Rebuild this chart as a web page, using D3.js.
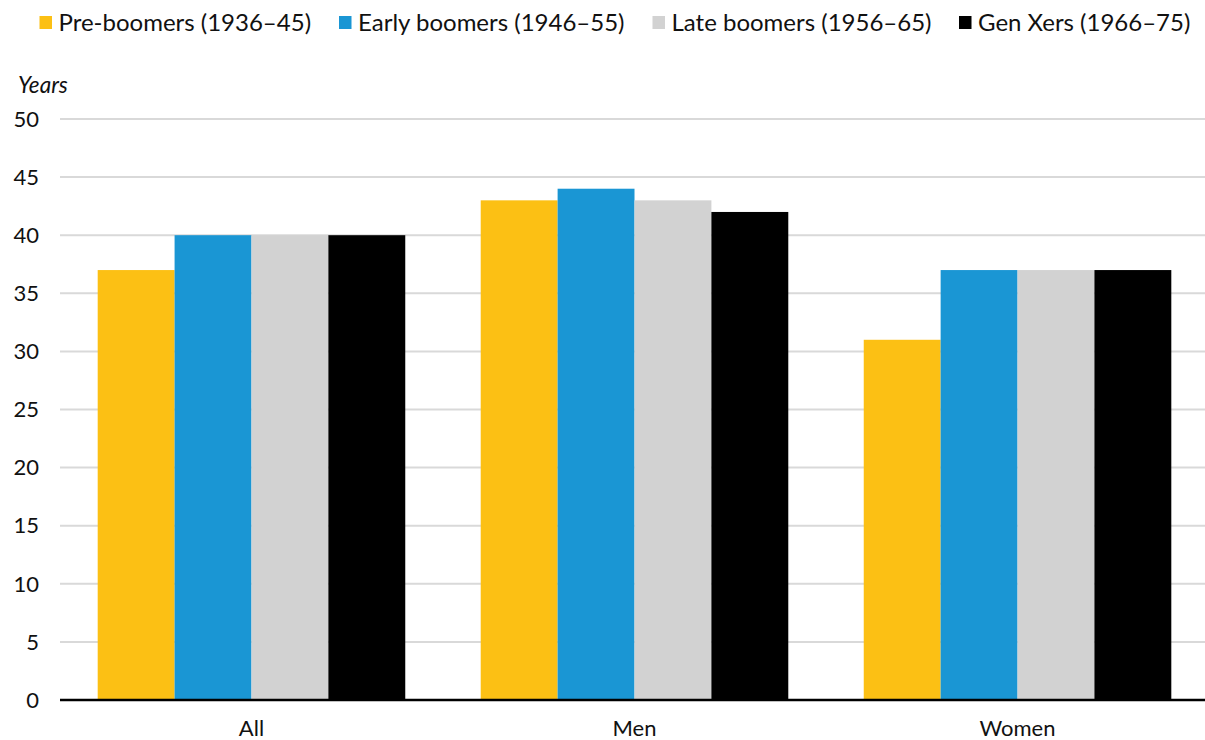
<!DOCTYPE html>
<html><head><meta charset="utf-8">
<script src="https://cdn.jsdelivr.net/npm/d3@7"></script>
<style>
html,body{margin:0;padding:0;background:#fff;}
svg{display:block;font-family:Lato,"Noto Sans",sans-serif;}
</style></head>
<body><svg id="chart" width="1205" height="740"></svg>
<script>
const categories = ["All", "Men", "Women"];
const seriesNames = ["Pre-boomers (1936–45)", "Early boomers (1946–55)", "Late boomers (1956–65)", "Gen Xers (1966–75)"];
const preBoomers = [37, 43, 31];
const earlyBoomers = [40, 44, 37];
const lateBoomers = [40, 43, 37];
const genXers = [40, 42, 37];
const yTicks = [0, 5, 10, 15, 20, 25, 30, 35, 40, 45, 50];
const colors = ["#FCC014", "#1A96D4", "#D2D2D2", "#000000"];

const series = [preBoomers, earlyBoomers, lateBoomers, genXers];
const svg = d3.select("#chart");
const mLeft = 60, mRight = 1205, mTop = 119, mBottom = 700;
const legendX = [39.5, 339, 652.5, 959];

const x0 = d3.scaleBand().domain(categories).range([mLeft, 1209]).paddingInner(0.197).paddingOuter(0.0984);
const x1 = d3.scaleBand().domain(d3.range(series.length)).range([0, x0.bandwidth()]).padding(0);
const y = d3.scaleLinear().domain([0, 50]).range([mBottom, mTop]);

// gridlines
svg.append("g").selectAll("line").data(yTicks.filter(t => t > 0)).join("line")
  .attr("x1", mLeft).attr("x2", mRight)
  .attr("y1", d => y(d)).attr("y2", d => y(d))
  .attr("stroke", "#d9d9d9").attr("stroke-width", 2);

// y tick labels
svg.append("g").selectAll("text").data(yTicks).join("text")
  .attr("x", 39).attr("y", d => y(d)).attr("dy", "0.35em")
  .attr("text-anchor", "end").attr("font-size", 22).attr("fill", "#111")
  .text(d => d);

// Years label
svg.append("text").attr("x", 18).attr("y", 93).attr("font-size", 22.5)
  .attr("font-style", "italic").attr("fill", "#111").text("Years");

// bars
const g = svg.append("g");
categories.forEach((c, ci) => {
  series.forEach((s, si) => {
    g.append("rect")
      .attr("x", x0(c) + x1(si))
      .attr("width", x1.bandwidth())
      .attr("y", y(s[ci]))
      .attr("height", y(0) - y(s[ci]))
      .attr("fill", colors[si]);
  });
});

// x axis line
svg.append("line").attr("x1", mLeft).attr("x2", mRight)
  .attr("y1", y(0)).attr("y2", y(0)).attr("stroke", "#000").attr("stroke-width", 2.5);

// category labels
svg.append("g").selectAll("text").data(categories).join("text")
  .attr("x", d => x0(d) + x0.bandwidth() / 2).attr("y", 736)
  .attr("text-anchor", "middle").attr("font-size", 22).attr("fill", "#111")
  .text(d => d);

// legend
const lg = svg.append("g");
seriesNames.forEach((n, i) => {
  const lx = legendX[i];
  lg.append("rect").attr("x", lx).attr("y", 16).attr("width", 12.5).attr("height", 13).attr("fill", colors[i]);
  lg.append("text").attr("x", lx + 19).attr("y", 31).attr("font-size", 24).attr("fill", "#111").text(n);
});
</script></body></html>
